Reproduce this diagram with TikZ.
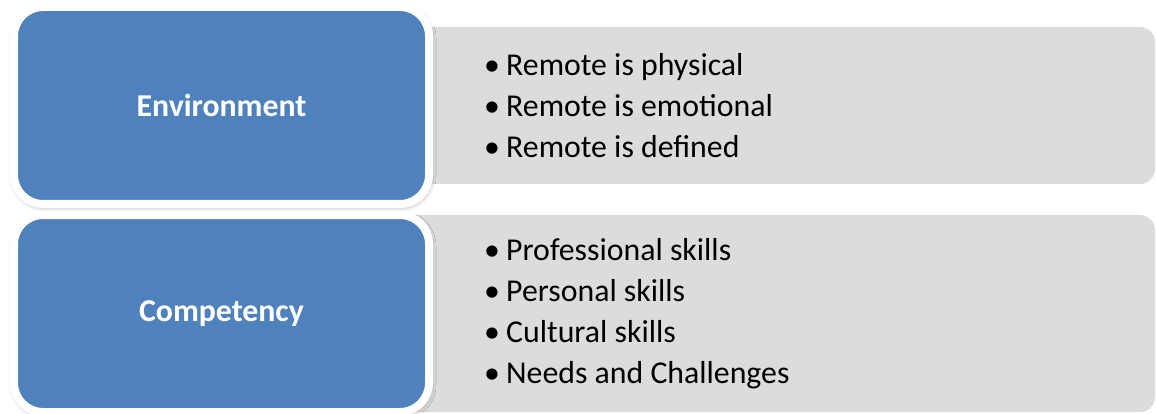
\documentclass[tikz,border=0pt]{standalone}
\usepackage{fontspec}
\setmainfont{Carlito}
\usetikzlibrary{shadows.blur}
\definecolor{headblue}{RGB}{79,129,189}
\definecolor{panelgray}{RGB}{220,220,220}
\tikzset{
  panel/.style={fill=panelgray, draw=none, rounded corners=15pt},
  head/.style={draw=white, line width=8pt, fill=headblue, rounded corners=29pt,
    minimum width=415pt, minimum height=197pt, inner sep=0pt,
    text=white, font=\fontsize{31.8}{37}\selectfont\bfseries,
    blur shadow={shadow xshift=1pt, shadow yshift=-2pt, shadow blur radius=6pt, shadow blur extra rounding=4pt, shadow opacity=45}},
  items/.style={anchor=west, align=left, inner sep=0pt,
    font=\fontsize{31.8}{41}\selectfont, text=black},
}
\newcommand{\itm}[1]{\makebox[22pt][l]{•}#1}
\begin{document}
\begin{tikzpicture}[x=1pt, y=-1pt]
  \useasboundingbox (0,0) rectangle (1156,414);
  % grey panels behind the headings
  \fill[panel] (330,27) rectangle (1155,184);
  \fill[panel] (330,215) rectangle (1155,412);
  % headings
  \node[head] (env) at (221.5,105.5) {Environment};
  \node[head] (comp) at (221.5,313.5) {Competency};
  % bullet lists
  \node[items] (envlist) at (484,105.5) {\itm{Remote is physical}\\ \itm{Remote is emotional}\\ \itm{Remote is defined}};
  \node[items] (complist) at (484,313.5) {\itm{Professional skills}\\ \itm{Personal skills}\\ \itm{Cultural skills}\\ \itm{Needs and Challenges}};
\end{tikzpicture}
\end{document}
